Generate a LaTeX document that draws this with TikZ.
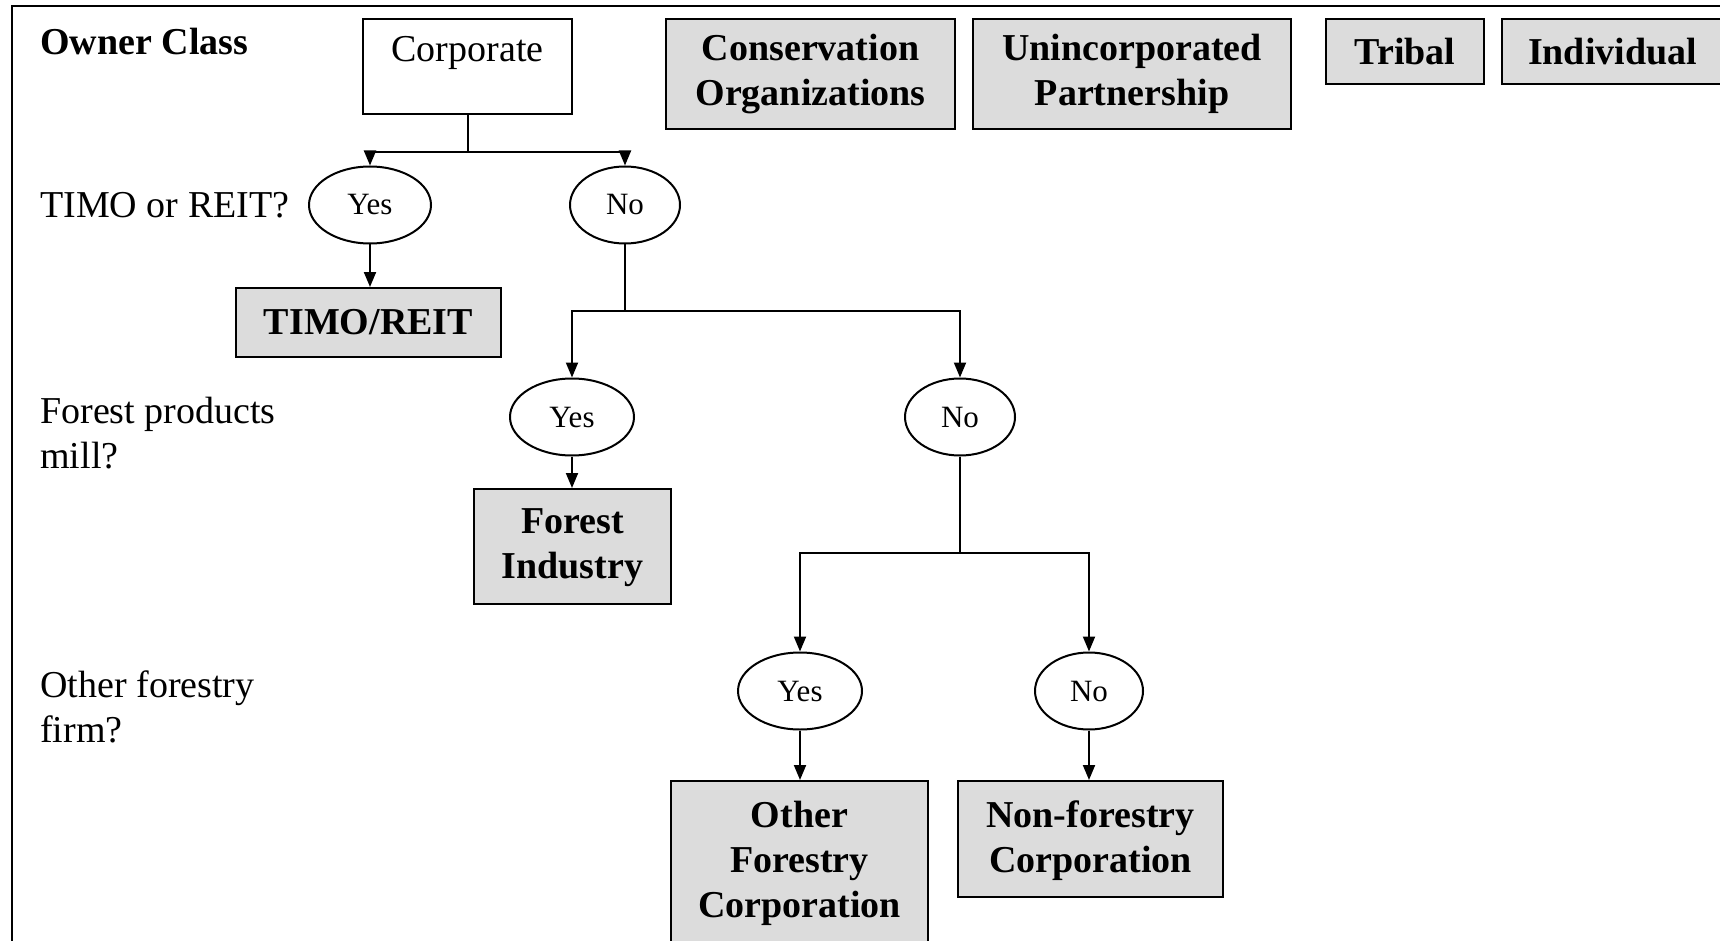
\documentclass[tikz,border=0pt]{standalone}
\usepackage{fontspec}
\setmainfont{Liberation Serif}
\usepackage{xcolor}
\usepackage{tikz}
\usetikzlibrary{
  positioning,
  arrows.meta,
  shapes.geometric
}
\definecolor{boxgray}{RGB}{220,220,220}

\begin{document}
\begin{tikzpicture}[
    x=1pt, y=1pt,
    >={Triangle[length=15pt, width=12pt]},
    font=\fontsize{38}{45}\selectfont,
    every path/.style={line width=2pt},
    owner/.style={draw, fill=white, minimum width=#1, inner ysep=0pt, text height=43, text depth=52},
    class/.style={draw, fill=boxgray, font=\fontsize{38}{45}\selectfont\bfseries, align=center, inner sep=0pt, minimum width=#1},
    answer/.style={draw, ellipse, inner sep=0pt, minimum height=77, minimum width=#1, font=\fontsize{31}{36}\selectfont},
    question/.style={anchor=west, align=left}
]
    \useasboundingbox (0,0) rectangle (1720,-941);

    % 外框
    \draw[line width=2.5pt] (12,-941) -- (12,-6) -- (1720,-6);

    % 问题
    \node[question] (qowner) at (36,-42) {\textbf{Owner Class}};
    \node[question] (qtimo) at (36,-205) {TIMO or REIT?};
    \node[question] (qmill) at (36,-433) {Forest products\\mill?};
    \node[question] (qfirm) at (36,-707) {Other forestry\\firm?};

    % 所有者类别
    \node[owner=209] (corp) at (467.5,-66.5) {Corporate};
    \node[class=289, minimum height=110] (cons) at (810.5,-74) {Conservation\\Organizations};
    \node[class=318, minimum height=110] (uninc) at (1132,-74) {Unincorporated\\Partnership};
    \node[class=158, minimum height=65] (tribal) at (1405,-51.5) {Tribal};
    \node[class=238, minimum height=65, text width=186, align=left] (indiv) at (1621,-51.5) {Individual};

    % 第一层
    \node[answer=122] (yes1) at (370,-205) {Yes};
    \node[answer=110] (no1) at (625,-205) {No};
    \node[class=265, minimum height=69] (timo) at (368.5,-322.5) {TIMO/REIT};

    % 第二层
    \node[answer=124] (yes2) at (572,-417) {Yes};
    \node[answer=110] (no2) at (960,-417) {No};
    \node[class=197, minimum height=115, text depth=5] (forest) at (572.5,-546.5) {Forest\\Industry};

    % 第三层
    \node[answer=124] (yes3) at (800,-691) {Yes};
    \node[answer=108] (no3) at (1089,-691) {No};
    \node[class=257, minimum height=164] (other) at (799.5,-863) {Other\\Forestry\\Corporation};
    \node[class=265, minimum height=116, text depth=5] (nonfor) at (1090.5,-839) {Non-forestry\\Corporation};

    % 连线
    \draw[->] (corp.south) -- ++(0,-37) -| (yes1.north);
    \draw[->] (corp.south) -- ++(0,-37) -| (no1.north);
    \draw[->] (yes1.south) -- (yes1.south |- timo.north);
    \draw[->] (no1.south) -- ++(0,-66) -| (yes2.north);
    \draw[->] (no1.south) -- ++(0,-66) -| (no2.north);
    \draw[->] (yes2.south) -- (yes2.south |- forest.north);
    \draw[->] (no2.south) -- ++(0,-96) -| (yes3.north);
    \draw[->] (no2.south) -- ++(0,-96) -| (no3.north);
    \draw[->] (yes3.south) -- (yes3.south |- other.north);
    \draw[->] (no3.south) -- (no3.south |- nonfor.north);
\end{tikzpicture}
\end{document}
